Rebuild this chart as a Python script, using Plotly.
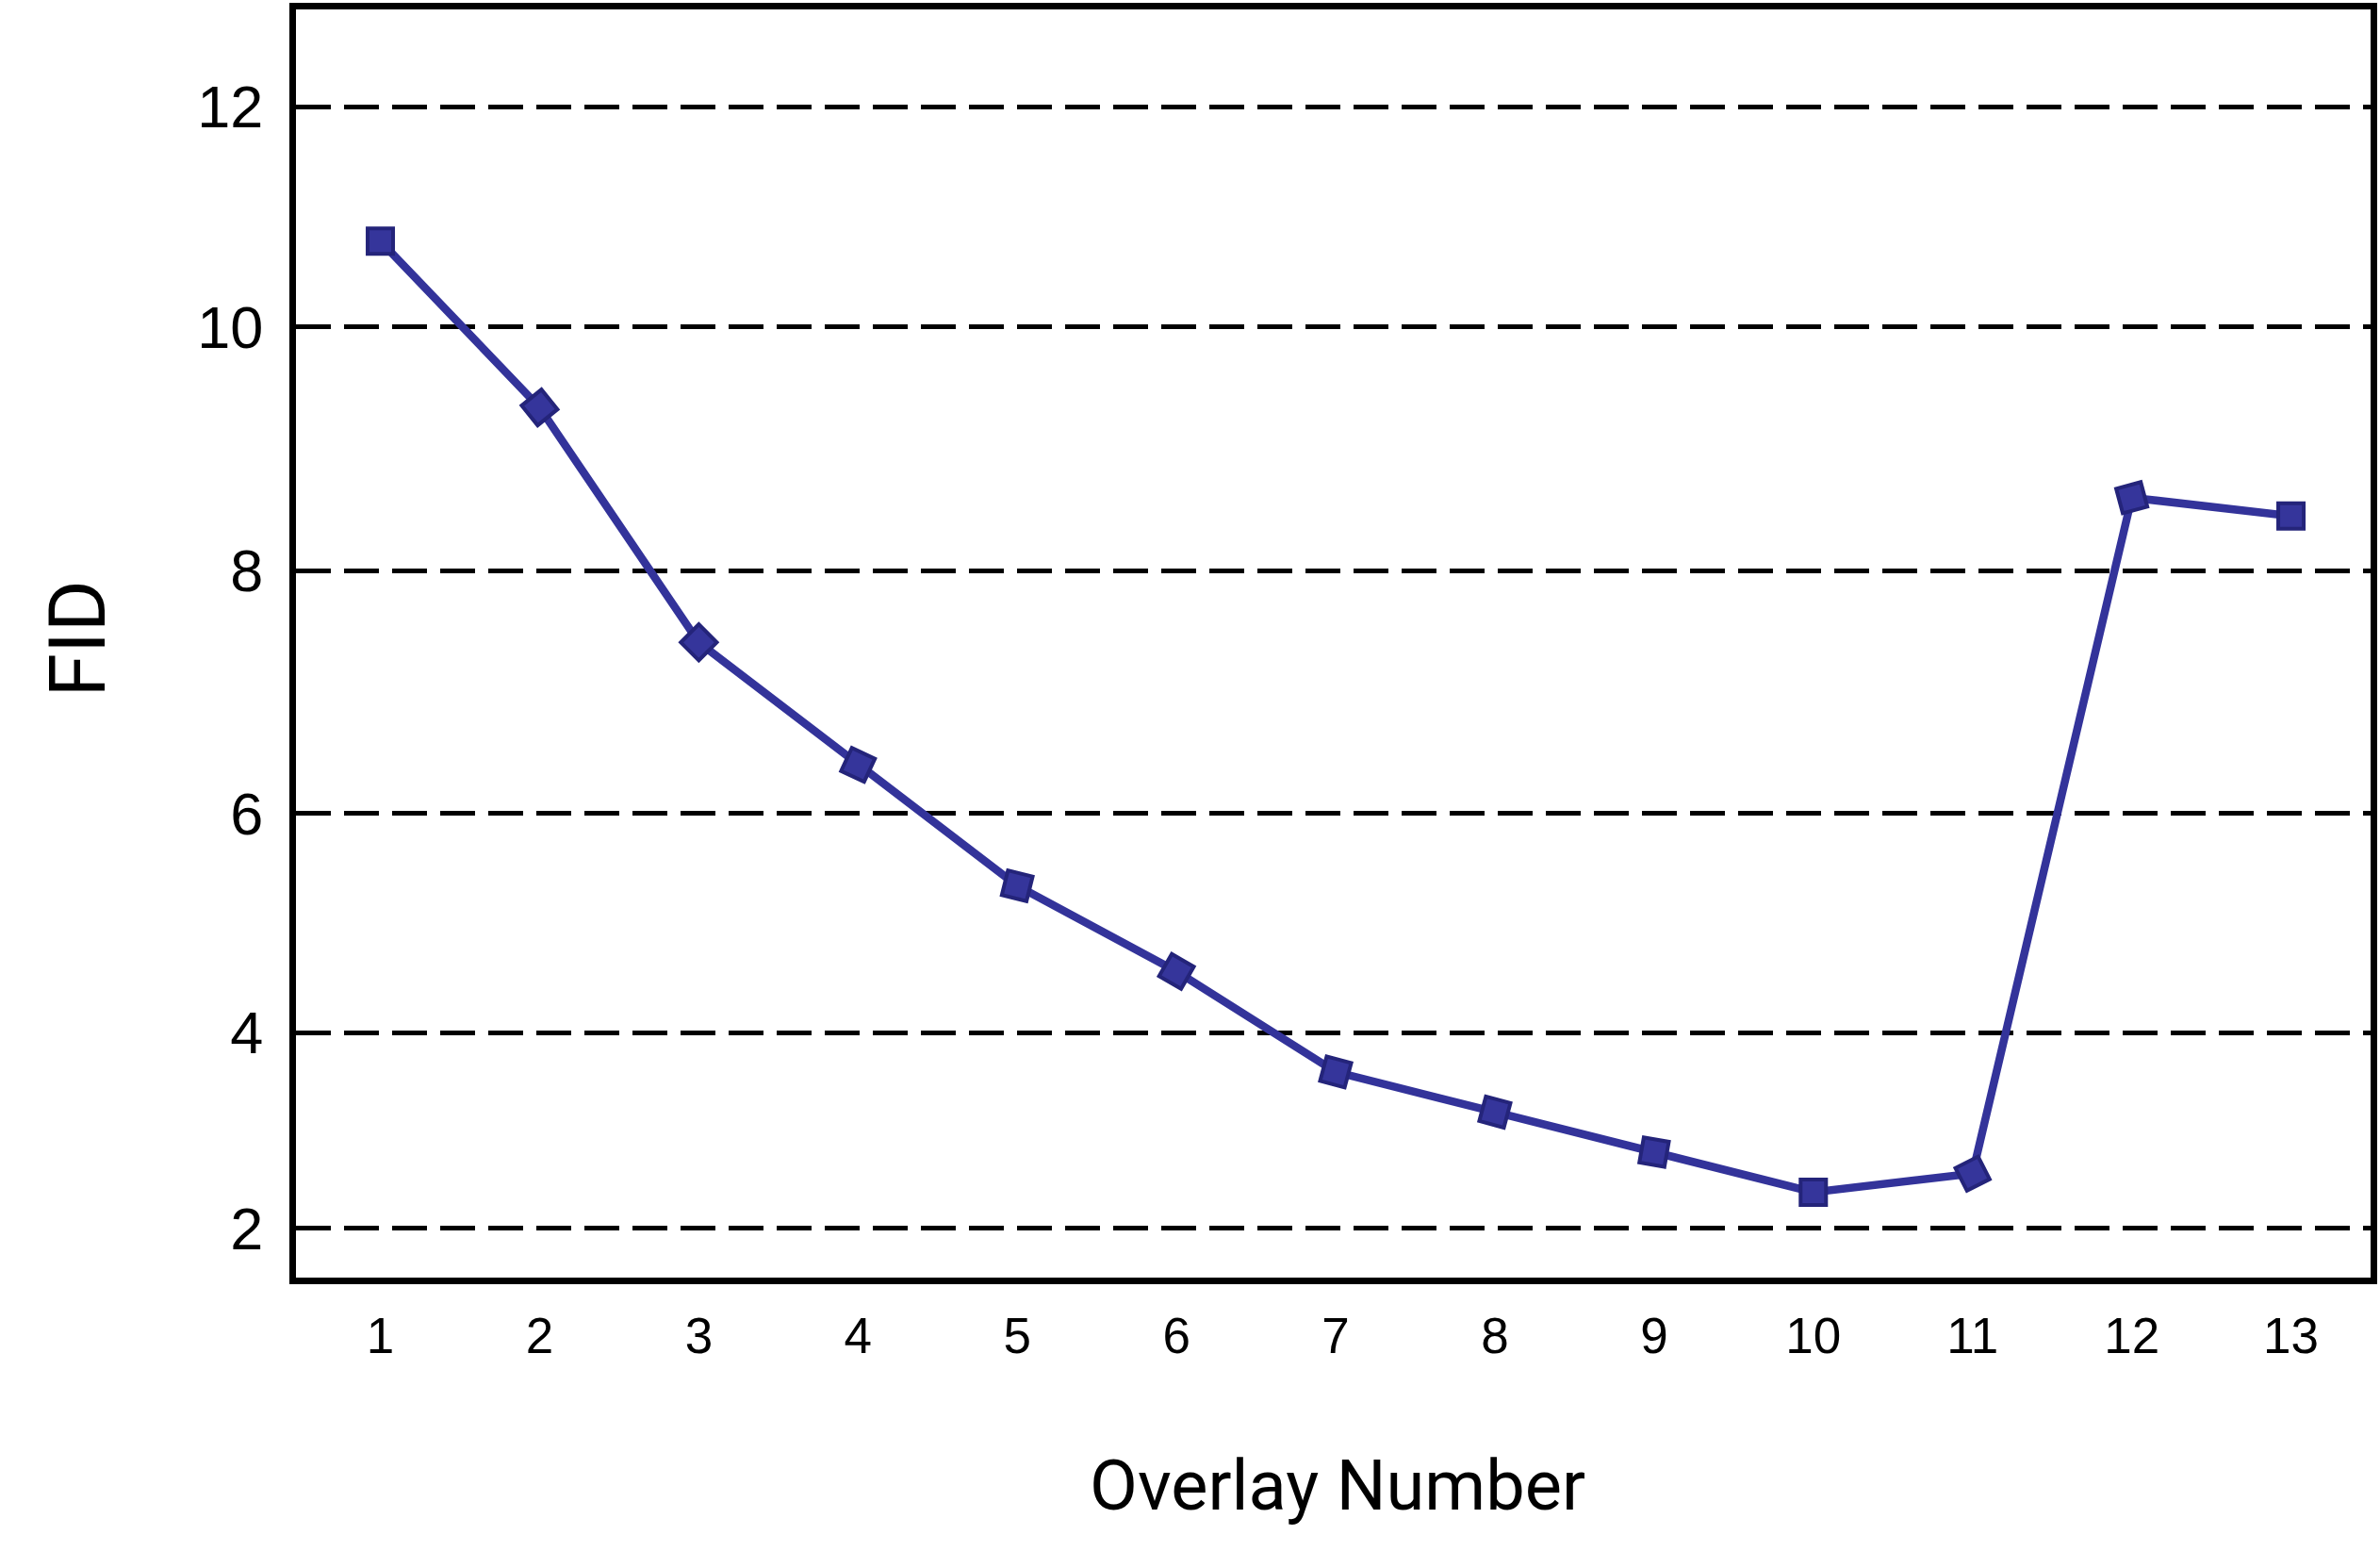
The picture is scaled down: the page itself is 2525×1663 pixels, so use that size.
import numpy as np
import plotly.graph_objects as go

# data
overlay_number = list(range(1, 14))
fid = [10.78, 9.34, 7.41, 6.40, 5.34, 4.56, 3.60, 3.19, 2.78, 2.37, 2.56, 8.60, 8.45]

# the y axis of the original is not evenly spaced: each tick value sits at
# its own fraction of the plot height, values in between are linear
y_ticks = [2, 4, 6, 8, 10, 12]
y_tick_frac = [0.0388, 0.1930, 0.3661, 0.5573, 0.7496, 0.9231]

# markers in the original are squares turned along the curve
marker_angles = [0, 51, 45, 25, 14, 30, 15, 15, 10, 0, -27, -15, 0]

LINE = "#33339a"
FILL = "#35359b"
EDGE = "#24247a"


def fid_scale(v):
    return np.interp(v, y_ticks, y_tick_frac)


fig = go.Figure(
    go.Scatter(
        x=overlay_number,
        y=fid_scale(fid),
        customdata=fid,
        mode="lines+markers",
        line=dict(color=LINE, width=8.5),
        marker=dict(
            symbol="square",
            size=27,
            color=FILL,
            angle=marker_angles,
            line=dict(color=EDGE, width=4),
        ),
        hovertemplate="Overlay %{x}<br>FID %{customdata}<extra></extra>",
    )
)

fig.update_xaxes(
    range=[0.47, 13.5],
    tickvals=overlay_number,
    showgrid=False,
    zeroline=False,
    showline=True,
    mirror=True,
    linewidth=7,
    linecolor="black",
    ticks="",
    ticklabelstandoff=9,
    tickfont=dict(family="Liberation Sans", size=53, color="black"),
)
fig.update_yaxes(
    range=[0, 1],
    tickvals=list(fid_scale(y_ticks)),
    ticktext=[str(t) for t in y_ticks],
    showgrid=True,
    gridcolor="black",
    gridwidth=5,
    griddash="37px,14px",
    zeroline=False,
    showline=True,
    mirror=True,
    linewidth=7,
    linecolor="black",
    ticks="",
    ticklabelstandoff=15,
    tickfont=dict(family="Liberation Sans", size=63, color="black"),
)

fig.add_annotation(
    text="Overlay Number",
    xref="paper", yref="paper", x=0.502, y=0,
    xanchor="center", yanchor="middle", yshift=-220,
    showarrow=False,
    font=dict(family="Roboto", size=74, color="black"),
)
fig.add_annotation(
    text="FID",
    xref="paper", yref="paper", x=0, y=0.5037,
    xanchor="center", yanchor="middle", xshift=-231,
    textangle=-90,
    showarrow=False,
    font=dict(family="Roboto", size=84, color="black"),
)

fig.update_layout(
    width=2525,
    height=1663,
    margin=dict(l=314, r=7, t=3, b=308),
    paper_bgcolor="white",
    plot_bgcolor="white",
    showlegend=False,
)

# drop the default page margin so the figure sits at the window corner
fig.write_html(
    "out.html",
    config={"displayModeBar": False},
    post_script="document.body.style.margin = '0';",
)
